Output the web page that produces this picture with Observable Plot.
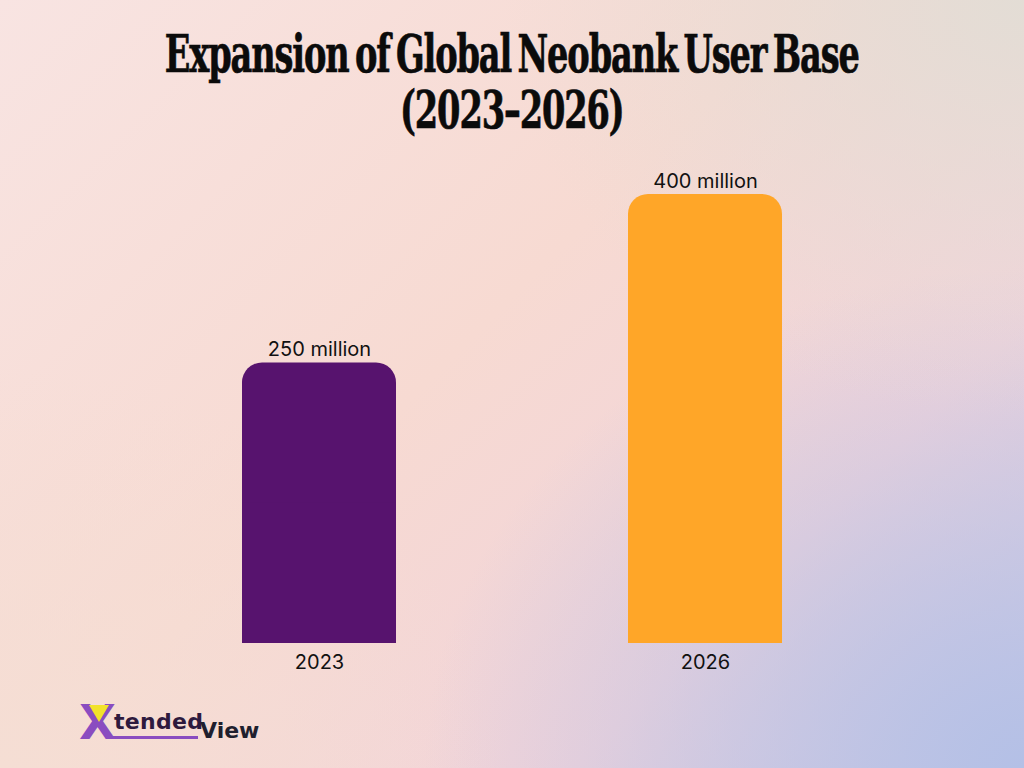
<!DOCTYPE html>
<html>
<head>
<meta charset="utf-8">
<script src="https://cdn.jsdelivr.net/npm/d3@7"></script>
<script src="https://cdn.jsdelivr.net/npm/@observablehq/plot@0.6"></script>
<style>
  html, body { margin: 0; padding: 0; }
  #page {
    position: relative; width: 1024px; height: 768px; overflow: hidden;
    background:
      radial-gradient(ellipse 520px 420px at 100% 0%, rgba(226,221,213,0.95), rgba(226,221,213,0) 100%),
      radial-gradient(ellipse 600px 500px at 100% 100%, rgba(180,192,230,1), rgba(185,195,230,0) 100%),
      radial-gradient(ellipse 500px 400px at 0% 100%, rgba(245,222,212,1), rgba(245,222,212,0) 100%),
      linear-gradient(135deg, #f8e4e2 0%, #f7dad2 45%, #f1d3da 75%, #d2cce4 100%);
    font-family: Inter, "Open Sans", sans-serif;
  }
  #title {
    position: absolute; left: 0; top: 26px; width: 1024px; text-align: center;
    font-family: "DejaVu Serif", serif; font-weight: bold; font-stretch: condensed;
    font-size: 52px; line-height: 56px; color: #0b0b0b; letter-spacing: -1.5px; word-spacing: -6px;
    -webkit-text-stroke: 0.7px #0b0b0b;
  }
  #title span { display: inline-block; transform-origin: 50% 50%; white-space: nowrap; }
  #chart { position: absolute; left: 0; top: 150px; }
  #logo { position: absolute; left: 80px; top: 700px; height: 46px; width: 200px; font-family: "DejaVu Sans", sans-serif; font-weight: bold; }
  #logo .x { position: absolute; left: -1px; top: -3px; font-size: 48px; color: #8a4cc0; line-height: 50px; }
  #logo .v { position: absolute; left: 9px; top: 5px; width: 0; height: 0; border-left: 10px solid transparent; border-right: 10px solid transparent; border-top: 17px solid #f2e22b; }
  #logo .t { position: absolute; left: 34px; top: 9px; font-size: 22px; color: #2e1a3e; letter-spacing: 0.3px; }
  #logo .u { position: absolute; left: 30px; top: 36px; width: 88px; height: 3px; background: #8a4cc0; }
  #logo .w { position: absolute; left: 120px; top: 18px; font-size: 22px; color: #1f1f2e; }
</style>
</head>
<body>
<div id="page">
  <div id="title"><span id="t1">Expansion of Global Neobank User Base</span><br><span id="t2">(2023–2026)</span></div>
  <div id="chart"></div>
  <div id="logo"><span class="x">X</span><span class="v"></span><span class="t">tended</span><span class="u"></span><span class="w">View</span></div>
</div>
<script>
const years = ["2023", "2026"];
const users = [250, 400];
const labels = ["250 million", "400 million"];
const colors = ["#57136e", "#ffa628"];

const data = years.map((y, i) => ({year: y, value: users[i], label: labels[i], color: colors[i]}));

// fit title to reference width
const t1 = document.getElementById("t1"), t2 = document.getElementById("t2");
const k = 694 / t1.getBoundingClientRect().width;
t1.style.transform = `scaleX(${k})`;
t2.style.transform = `scaleX(${k})`;

const chart = Plot.plot({
  width: 1024,
  height: 533,
  marginLeft: 10,
  marginRight: 10,
  marginTop: 44,
  marginBottom: 40,
  style: {background: "transparent", fontFamily: "Inter, 'Open Sans', sans-serif", fontSize: "20px", color: "#111"},
  x: {domain: years, padding: 0.6, label: null, tickSize: 0, tickPadding: 11},
  y: {domain: [0, 400], axis: null},
  marks: [
    Plot.barY(data, {x: "year", y: "value", fill: "color", rx: 20}),
    Plot.barY(data, {x: "year", y: d => d.value / 2, fill: "color"}),
    Plot.text(data, {x: "year", y: "value", text: "label", lineAnchor: "bottom", dy: -7, fontSize: 20, fill: "#111"})
  ]
});
document.getElementById("chart").appendChild(chart);
</script>
</body>
</html>
